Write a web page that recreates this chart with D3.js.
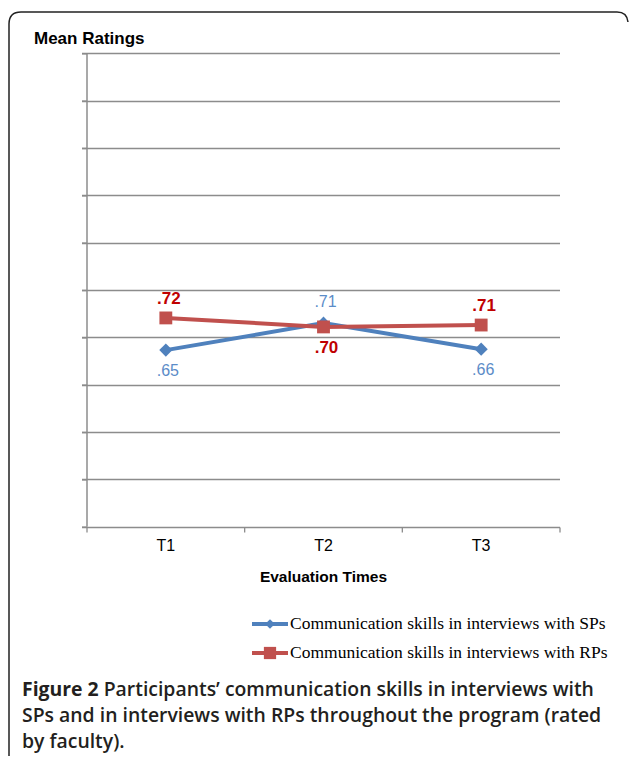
<!DOCTYPE html>
<html>
<head>
<meta charset="utf-8">
<script src="https://cdn.jsdelivr.net/npm/d3@7"></script>
<style>
  body { margin: 0; background: #fff; }
  svg { display: block; }
</style>
</head>
<body>
<div id="figure"></div>
<script>
// chart data
var times = ["T1", "T2", "T3"];
var spValues = [0.654, 0.711, 0.656];
var rpValues = [0.722, 0.703, 0.707];
var spPlace = ["below", "above", "below"];
var rpPlace = ["above", "below", "above"];
var seriesNames = ["Communication skills in interviews with SPs",
                   "Communication skills in interviews with RPs"];
var captionLines = [
  ["Figure 2", " Participants\u2019 communication skills in interviews with"],
  ["", "SPs and in interviews with RPs throughout the program (rated"],
  ["", "by faculty)."]
];

var W = 629, H = 759;
var blue = "#4f81bd", red = "#c0504d";

var svg = d3.select("#figure").append("svg")
    .attr("width", W)
    .attr("height", H);

// outer frame (rounded, open to the right / bottom)
svg.append("path")
    .attr("d", "M9,756 L9,24 Q9,12 21,12 L617,12 Q627,12 628,22")
    .style("fill", "none")
    .style("stroke", "#222")
    .style("stroke-width", 1.5);

var plotL = 87, plotR = 560, plotT = 53.3, plotB = 526.7;

var x = d3.scaleBand().domain(times).range([plotL, plotR]);
var y = d3.scaleLinear().domain([0.281, 1.281]).range([plotB, plotT]);

// gridlines
var gridVals = d3.range(0, 11).map(function(i) { return 0.281 + i * 0.1; });
svg.append("g").selectAll("line")
  .data(gridVals.slice(1))
  .enter().append("line")
    .attr("x1", plotL - 5)
    .attr("x2", plotR)
    .attr("y1", function(d) { return Math.round(y(d)) + 0.5; })
    .attr("y2", function(d) { return Math.round(y(d)) + 0.5; })
    .style("stroke", "#8c8c8c")
    .style("stroke-width", 1.3);

// y axis
var yAxis = svg.append("g")
    .attr("transform", "translate(" + plotL + ",0)")
    .call(d3.axisLeft(y).tickValues(gridVals).tickSize(5).tickFormat(""));
yAxis.selectAll("path, line").style("stroke", "#8c8c8c").style("stroke-width", 1.5);
yAxis.select(".domain").attr("d", "M0," + plotT + "V" + plotB);

// x axis
var xAxis = svg.append("g")
    .attr("transform", "translate(0," + (Math.round(plotB) + 0.5) + ")")
    .call(d3.axisBottom(x).tickSize(0).tickPadding(12));
xAxis.select(".domain").attr("d", "M" + (plotL - 5) + ",0H" + plotR)
    .style("stroke", "#8c8c8c").style("stroke-width", 1.5);
xAxis.selectAll("text")
    .style("font-family", "Liberation Sans, Arial, sans-serif")
    .style("font-size", "16px")
    .style("fill", "#000");
// boundary ticks
xAxis.selectAll(".bt")
  .data(d3.range(0, 4))
  .enter().append("line")
    .attr("class", "bt")
    .attr("x1", function(i) { return plotL + i * x.bandwidth(); })
    .attr("x2", function(i) { return plotL + i * x.bandwidth(); })
    .attr("y1", 0).attr("y2", 5)
    .style("stroke", "#8c8c8c").style("stroke-width", 1.3);

svg.append("text")
    .attr("x", 34).attr("y", 44)
    .text("Mean Ratings")
    .style("font-family", "Liberation Sans, Arial, sans-serif")
    .style("font-weight", "bold")
    .style("font-size", "17px");

svg.append("text")
    .attr("x", (plotL + plotR) / 2).attr("y", 582)
    .attr("text-anchor", "middle")
    .text("Evaluation Times")
    .style("font-family", "Liberation Sans, Arial, sans-serif")
    .style("font-weight", "bold")
    .style("font-size", "15.5px");

var cx = function(d, i) { return x(times[i]) + x.bandwidth() / 2; };
var line = d3.line()
    .x(function(d, i) { return cx(d, i); })
    .y(function(d) { return y(d); });

var diamond = d3.symbol().type(d3.symbolDiamond2).size(110);
var square = d3.symbol().type(d3.symbolSquare).size(165);

// series lines
svg.append("path").datum(spValues)
    .attr("d", line)
    .style("fill", "none").style("stroke", blue).style("stroke-width", 4);
svg.append("path").datum(rpValues)
    .attr("d", line)
    .style("fill", "none").style("stroke", red).style("stroke-width", 4);

svg.append("g").selectAll("path")
  .data(spValues)
  .enter().append("path")
    .attr("d", diamond)
    .attr("transform", function(d, i) { return "translate(" + cx(d, i) + "," + y(d) + ")"; })
    .style("fill", blue);
svg.append("g").selectAll("path")
  .data(rpValues)
  .enter().append("path")
    .attr("d", square)
    .attr("transform", function(d, i) { return "translate(" + cx(d, i) + "," + y(d) + ")"; })
    .style("fill", red);

var fmt = function(v) { return d3.format(".2f")(v).replace(/^0/, ""); };

svg.append("g").selectAll("text")
  .data(spValues)
  .enter().append("text")
    .attr("x", function(d, i) { return cx(d, i) + 2; })
    .attr("y", function(d, i) { return y(d) + (spPlace[i] == "above" ? -16 : 26); })
    .attr("text-anchor", "middle")
    .text(fmt)
    .style("font-family", "Liberation Sans, Arial, sans-serif")
    .style("font-size", "16px")
    .style("fill", "#5b8cc8");
svg.append("g").selectAll("text")
  .data(rpValues)
  .enter().append("text")
    .attr("x", function(d, i) { return cx(d, i) + 3; })
    .attr("y", function(d, i) { return y(d) + (rpPlace[i] == "above" ? -14 : 26); })
    .attr("text-anchor", "middle")
    .text(fmt)
    .style("font-family", "Liberation Sans, Arial, sans-serif")
    .style("font-weight", "bold")
    .style("font-size", "17px")
    .style("fill", "#c00000");

// legend
var legend = svg.append("g").selectAll("g")
  .data(seriesNames)
  .enter().append("g")
    .attr("transform", function(d, i) { return "translate(252," + (624 + i * 29) + ")"; });
legend.append("line")
    .attr("x1", 0).attr("x2", 36)
    .style("stroke", function(d, i) { return i == 0 ? blue : red; })
    .style("stroke-width", 4);
legend.append("path")
    .attr("transform", "translate(18,0)")
    .attr("d", function(d, i) { return i == 0 ? d3.symbol().type(d3.symbolDiamond2).size(60)() : d3.symbol().type(d3.symbolSquare).size(150)(); })
    .style("fill", function(d, i) { return i == 0 ? blue : red; });
legend.append("text")
    .attr("x", 38).attr("y", 5)
    .text(function(d) { return d; })
    .style("font-family", "Liberation Serif, Times New Roman, serif")
    .style("font-size", "17.5px");

// caption
var cap = svg.append("g").selectAll("text")
  .data(captionLines)
  .enter().append("text")
    .attr("x", 22)
    .attr("y", function(d, i) { return 696 + i * 26; })
    .style("font-family", "Open Sans, sans-serif")
    .style("font-size", "19.4px")
    .style("fill", "#231f20");
cap.append("tspan")
    .text(function(d) { return d[0]; })
    .style("font-weight", "bold");
cap.append("tspan")
    .text(function(d) { return d[1]; })
    .style("font-weight", "600");
</script>
</body>
</html>
